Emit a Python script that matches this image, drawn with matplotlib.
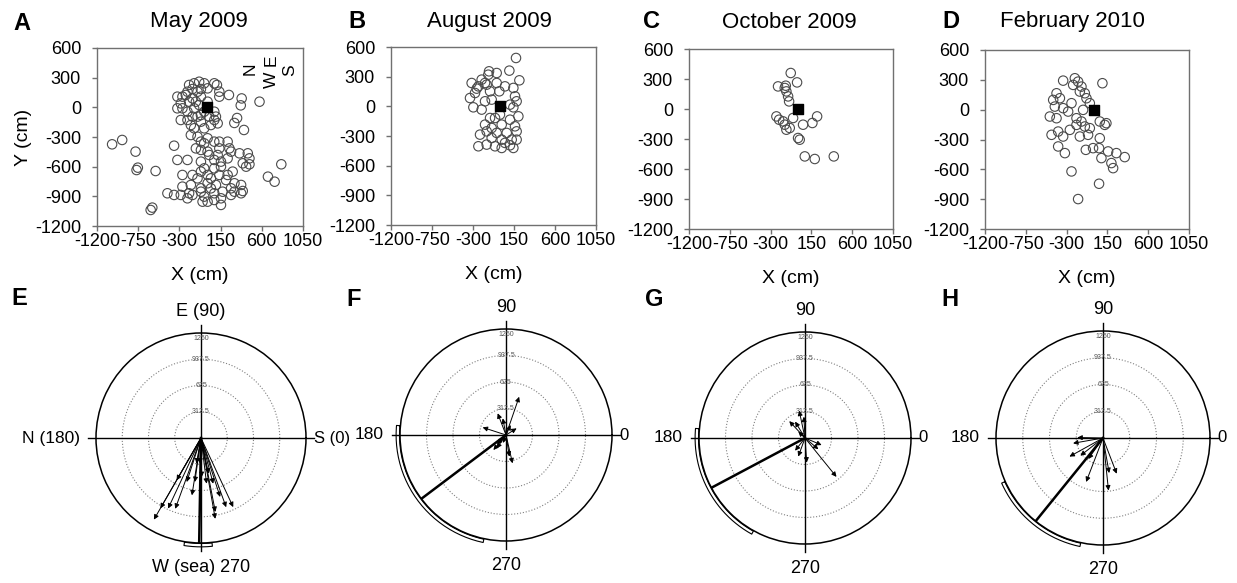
import numpy as np
import matplotlib
matplotlib.use('Agg')
import matplotlib.pyplot as plt

plt.rcParams['font.family'] = ['Liberation Sans', 'DejaVu Sans']
plt.rcParams['axes.unicode_minus'] = False

W, H = 1237, 583

# recapture positions relative to the release point (X, Y in cm)
mayPts = [(-139,243),(-84,259),(-29,243),(81,243),(-194,226),(-157,185),(-65,185),(110,226),
          (-322,108),(-267,108),(-285,40),(-230,125),(-157,91),(-65,108),(8,57),(136,158),(136,108),
          (241,125),(380,90),(370,20),(575,57),
          (-322,-10),(-267,-10),(-212,-44),(-139,-10),(-84,24),(-65,-78),(81,-44),(99,-94),(81,-128),
          (-285,-128),(-212,-128),(-175,-179),(-139,-212),(-65,-145),(-29,-212),(44,-179),(118,-162),
          (330,-108),(300,-158),(405,-229),
          (-175,-280),(-102,-297),(-65,-347),(-29,-364),(8,-313),(81,-347),(136,-347),(136,-415),
          (227,-347),(246,-415),(264,-448),(356,-465),(447,-465),(465,-516),(465,-576),
          (-120,-415),(-65,-431),(8,-448),(26,-482),(118,-482),(81,-532),(154,-549),(227,-516),(154,-600),
          (-322,-532),(-212,-532),(-65,-549),(-29,-617),(81,-617),(-65,-650),(8,-684),(-267,-684),
          (-157,-684),(-102,-718),(44,-718),(136,-684),(227,-684),(282,-650),(392,-566),(429,-600),
          (667,-701),(740,-752),(813,-576),
          (-267,-802),(-175,-785),(-65,-819),(8,-768),(99,-785),(209,-735),(301,-768),(374,-785),(264,-819),
          (-431,-869),(-358,-886),(-285,-886),(-194,-869),(-157,-886),(-65,-853),(-29,-903),(44,-819),
          (81,-869),(172,-853),(264,-886),(301,-853),(374,-869),(392,-846),
          (-212,-920),(8,-954),(81,-937),(154,-920),(-47,-954),(-596,-1014),(-614,-1038),(154,-987),
          (-1035,-374),(-925,-330),(-779,-448),(-768,-634),(-754,-610),(-560,-644),(-358,-388),
          (-194,57),(-120,57),(-29,-44),(26,-94),(-102,-94),(-157,-94),(8,192),(-212,158),(-102,158)]

augPts = [(172,489),(99,361),(209,263),(-124,354),(-132,320),(-315,236),(-260,179),(-333,84),
          (-296,-10),(-205,270),(-150,219),(-40,236),(-113,152),(-11,152),(51,202),(143,186),
          (161,101),(179,51),(-95,68),(-168,51),(-205,-33),(106,17),(143,-10),(198,-101),
          (-113,-118),(-168,-185),(-95,-219),(15,-185),(106,-135),(161,-202),(179,-253),(-150,-253),
          (-40,-269),(70,-269),(-95,-320),(15,-337),(125,-337),(-223,-286),(-241,-404),(-150,-387),
          (-58,-404),(15,-421),(106,-394),(143,-421),(-168,236),(-278,135),(-4,-84),(-58,-118),
          (51,-370),(179,-337),(-40,337),(-241,202)]

octPts = [(-78,360),(-8,266),(-218,226),(-133,233),(-126,176),(-107,126),(-96,76),(-236,-74),
          (-206,-107),(-144,-157),(-126,-207),(-89,-190),(-52,-90),(58,-157),(161,-140),(213,-74),
          (3,-290),(21,-307),(77,-474),(187,-500),(397,-474),(-144,210),(-162,-124)]

febPts = [(95,266),(-338,292),(-209,316),(-173,282),(-228,249),(-136,232),(-154,182),(-99,165),
          (-81,115),(-44,65),(-411,165),(-448,98),(-374,115),(-430,31),(-338,15),(-283,-19),
          (-485,-69),(-411,-86),(-191,-86),(-136,-119),(-191,-153),(-99,-169),(-44,-186),(66,-119),
          (121,-153),(139,-136),(-466,-253),(-393,-220),(-338,-270),(-264,-203),(-154,-270),(-63,-253),
          (-393,-370),(-319,-437),(-88,-404),(-8,-387),(66,-287),(58,-387),(158,-420),(84,-487),
          (249,-437),(341,-477),(194,-537),(213,-588),(-246,-621),(58,-745),(-173,-899),(-118,-2),
          (-246,65)]

titles = ['May 2009', 'August 2009', 'October 2009', 'February 2010']
xTicks = [-1200, -750, -300, 150, 600, 1050]
yTicks = [600, 300, 0, -300, -600, -900, -1200]

# individual displacement vectors: direction (deg) and distance (cm)
mayAng = [240, 240, 245, 250, 240, 252, 261, 262, 268, 271, 277, 282, 285, 281, 280, 288, 290, 295, 260]
mayDist = [1122, 967, 927, 897, 581, 551, 691, 529, 305, 465, 548, 434, 563, 897, 977, 738, 877, 908, 310]
augAng = [71, 111, 162, 101, 65, 32, 283, 279, 230, 235, 225, 250]
augDist = [477, 274, 290, 200, 130, 148, 343, 259, 231, 192, 150, 100]
octAng = [309, 102, 133, 121, 136, 274, 320, 337, 232, 250, 93]
octDist = [590, 330, 272, 226, 110, 291, 206, 213, 190, 233, 252]
febAng = [179, 190, 209, 218, 249, 276, 280, 291, 235]
febDist = [300, 355, 448, 336, 550, 617, 416, 447, 300]

# mean direction and 95% confidence interval (deg)
meanAng = [269, 217, 208, 231]
ciLow = [261, 175, 175, 204]
ciHigh = [276, 258, 241, 258]

rRings = [312.5, 625, 937.5, 1250]
rLabels = ['312.5', '625', '937.5', '1250']
topLabels = ['E (90)', '90', '90', '90']
bottomLabels = ['W (sea) 270', '270', '270', '270']
leftLabels = ['N (180)', '180', '180', '180']
rightLabels = ['S (0)', '0', '0', '0']


def pxRect(l, t, r, b):
    return [l / W, 1 - b / H, (r - l) / W, (b - t) / H]


fig = plt.figure(figsize=(W / 100, H / 100), dpi=100)

# ---- top row: scatter of recaptures
boxes = [(97, 48, 303, 226), (391, 47, 596, 225), (689, 49, 893, 229), (985, 50, 1189, 229)]
letterPos = [(22, 24), (357, 22), (651, 22), (951, 22)]
titlePos = [(199, 22), (489, 22), (789, 22), (1072, 22)]
allPts = [mayPts, augPts, octPts, febPts]

for i in range(4):
    ax = fig.add_axes(pxRect(*boxes[i]))
    pts = np.array(allPts[i])
    ax.scatter(pts[:, 0], pts[:, 1], s=46, facecolors='none', edgecolors='#4a4a4a',
               linewidths=0.8, zorder=2)
    ax.scatter([0], [0], marker='s', s=62, color='black', zorder=3)
    ax.set_xlim(-1200, 1050)
    ax.set_ylim(-1200, 600)
    ax.set_xticks(xTicks)
    ax.set_yticks(yTicks)
    for sp in ax.spines.values():
        sp.set_color('#707070')
        sp.set_linewidth(1)
    ax.tick_params(direction='out', length=3.5, width=1, color='#707070', labelsize=13)
    ax.tick_params(axis='x', pad=1.5)
    ax.tick_params(axis='y', pad=8)
    ax.set_xlabel('X (cm)', fontsize=14, labelpad=12)
    if i == 0:
        ax.set_ylabel('Y (cm)', fontsize=14, labelpad=2)
        # compass rose, rotated with the map
        ax.text(470, 390, 'N', rotation=90, fontsize=12.5, ha='center', va='center')
        ax.text(700, 480, 'E', rotation=90, fontsize=12.5, ha='center', va='center')
        ax.text(700, 280, 'W', rotation=90, fontsize=12.5, ha='center', va='center')
        ax.text(910, 380, 'S', rotation=90, fontsize=12.5, ha='center', va='center')
    fig.text(letterPos[i][0] / W, 1 - letterPos[i][1] / H, 'ABCD'[i], fontsize=17,
             fontweight='bold', ha='center', va='center')
    fig.text(titlePos[i][0] / W, 1 - titlePos[i][1] / H, titles[i], fontsize=16,
             ha='center', va='center')

# ---- bottom row: circular plots of displacement vectors
centers = [(201, 438, 105), (506, 435, 106), (805, 438, 106), (1103, 438, 107)]
polLetterPos = [(19, 299), (354, 300), (654, 300), (950, 300)]
allAng = [mayAng, augAng, octAng, febAng]
allDist = [mayDist, augDist, octDist, febDist]

for i in range(4):
    cx, cy, rad = centers[i]
    pax = fig.add_axes(pxRect(cx - rad, cy - rad, cx + rad, cy + rad), projection='polar')
    pax.set_ylim(0, 1250)
    pax.set_xticks([])
    pax.set_yticks(rRings[:3])
    pax.set_yticklabels([])
    pax.yaxis.grid(True, linestyle=':', color='#808080', linewidth=0.8)
    pax.spines['polar'].set_linewidth(1.1)

    for th in [0, 90, 180, 270]:
        pax.plot([np.radians(th)] * 2, [0, 1340], color='black', lw=1, clip_on=False, zorder=2)

    for r, lab in zip(rRings, rLabels):
        rr = r if r < 1250 else 1185
        pax.text(np.pi / 2, rr, lab, fontsize=5, color='#555555', ha='center', va='center', zorder=3)

    for a, d in zip(allAng[i], allDist[i]):
        pax.annotate('', xy=(np.radians(a), d), xytext=(0, 0),
                     arrowprops=dict(arrowstyle='-|>', lw=0.7, color='black',
                                     shrinkA=0, shrinkB=0, mutation_scale=7), zorder=4)

    # mean vector
    pax.plot([np.radians(meanAng[i])] * 2, [0, 1250], color='black', lw=1.8, zorder=5)

    # confidence interval band just outside the circle
    t = np.radians(np.linspace(ciLow[i], ciHigh[i], 80))
    bandT = np.concatenate([t, t[::-1], t[:1]])
    bandR = np.concatenate([np.full(80, 1256), np.full(80, 1296), [1256]])
    pax.plot(bandT, bandR, color='black', lw=0.8, clip_on=False)

    pax.text(np.pi / 2, 1500, topLabels[i], fontsize=13, ha='center', va='center')
    pax.text(3 * np.pi / 2, 1540, bottomLabels[i], fontsize=13, ha='center', va='center')
    pax.text(np.pi, 1440, leftLabels[i], fontsize=12.5, ha='right', va='center')
    pax.text(0, 1340, rightLabels[i], fontsize=12, ha='left', va='center')

    fig.text(polLetterPos[i][0] / W, 1 - polLetterPos[i][1] / H, 'EFGH'[i], fontsize=17,
             fontweight='bold', ha='center', va='center')

fig.savefig('out.png', dpi=100)
